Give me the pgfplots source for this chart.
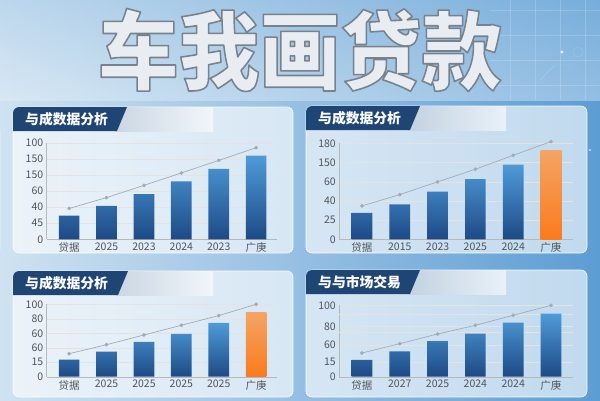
\documentclass[border=0pt]{standalone}
\usepackage{fontspec}
\setmainfont{Noto Sans CJK SC}
\usepackage{pgfplots}
\pgfplotsset{compat=1.18}
\definecolor{bgL}{HTML}{CFE2F1}
\definecolor{bgM}{HTML}{E7F1F9}
\definecolor{bgR}{HTML}{5C9DD4}
\definecolor{navy}{HTML}{1F4574}
\definecolor{barTop}{HTML}{4E9BD8}
\definecolor{barMid}{HTML}{3577B8}
\definecolor{barBot}{HTML}{1D4A86}
\definecolor{orTop}{HTML}{F4A464}
\definecolor{orMid}{HTML}{F98A33}
\definecolor{orBot}{HTML}{FB7A1C}
\definecolor{lineG}{HTML}{A3ABB6}
\definecolor{tickT}{HTML}{50555C}
\definecolor{silver}{HTML}{E9EDF1}
\pgfplotsset{
  panel/.style={scale only axis, anchor=south west, ymin=0,
    axis x line*=bottom, axis y line*=left,
    axis line style={draw=black!28, -},
    ymajorgrids, grid style={black!11},
    major tick length=0pt, xtick={0,...,5},
    tick label style={font=\fontsize{10.5}{11}\selectfont, text=tickT},
    clip=false, /pgf/number format/assume math mode=true},
  bars/.style={ybar, bar width=20.7pt, bar shift=0pt, draw=none,
    top color=barTop, middle color=barMid, bottom color=barBot},
  obars/.style={ybar, bar width=20.7pt, bar shift=0pt, draw=none,
    top color=orTop, middle color=orMid, bottom color=orBot},
  trend/.style={lineG, line width=0.7pt, mark=*, mark size=1.5pt, mark options={fill=lineG, draw=lineG}}
}
\newcommand{\panelbox}[6]{%
  \fill[white, opacity=0.62, rounded corners=6pt] (#1,#2) rectangle (#3,#4);
  \draw[white, opacity=0.9, line width=0.6pt, rounded corners=6pt] (#1,#2) rectangle (#3,#4);
  \begin{scope}
    \clip[rounded corners=6pt] (#1,#2) rectangle (#3,#4);
    \shade[left color=navy!30!white, right color=white, opacity=0.6] (#5-12,#4-24) rectangle (#1+200,#4);
    \fill[navy] (#1,#4-24) -- (#1,#4) -- (#5,#4) -- (#5-10,#4-24) -- cycle;
  \end{scope}
  \node[anchor=west, text=white, inner sep=0pt] at (#1+12,#4-12.5) {\fontsize{13.8}{14}\selectfont\bfseries #6};
}
\begin{document}
\begin{tikzpicture}[x=1pt,y=1pt]
\useasboundingbox (0,0) rectangle (600,400);
\shade[left color=bgL, middle color=bgM, right color=bgR] (0,0) rectangle (600,400);
\shade[top color=bgR!50!bgM, bottom color=bgM, opacity=0.4] (0,300) rectangle (600,400);
% tech decoration
\begin{scope}[white, opacity=0.18, line width=0.4pt]
  \foreach \x in {510,535,...,600} \draw (\x,300) -- (\x,400);
  \foreach \y in {315,340,...,400} \draw (490,\y) -- (600,\y);
  \draw (540,320) -- (555,335) -- (575,335);
  \draw (578,348) circle (5);
  \foreach \x in {0,20,...,60} \draw (\x,150) -- (\x,270);
\end{scope}
\fill[white, opacity=0.8] (562,348) circle (1.6);
\fill[white, opacity=0.7] (590,250) circle (1.2);
% big title (silver fill with grey outline)
\node[text=silver, xscale=0.94] at (300,350) {\fontsize{86}{86}\selectfont\bfseries\special{pdf:literal direct 2 Tr 1.6 w 1 j 0.47 0.51 0.56 RG}车我画贷款\special{pdf:literal direct 0 Tr}};
% panels
\panelbox{13}{147}{293}{293}{127}{与成数据分析}
\panelbox{306}{147}{587}{294}{420}{与成数据分析}
\panelbox{13}{3}{293}{129}{128}{与成数据分析}
\panelbox{306}{3}{587}{130}{420}{与与市场交易}
% panel 1
\begin{axis}[panel, at={(46.7pt,160.7pt)}, width=230pt, height=96.6pt,
  xmin=-0.6, xmax=5.55, ymax=6, ytick={0,...,6},
  yticklabels={0,45,40,60,150,150,100},
  xticklabels={贷据,2025,2023,2024,2023,广庚}]
\addplot[bars] coordinates {(0,1.47) (1,2.07) (2,2.81) (3,3.6) (4,4.37) (5,5.19)};
\addplot[trend] coordinates {(0,1.92) (1,2.59) (2,3.35) (3,4.12) (4,4.9) (5,5.69)};
\end{axis}
% panel 2
\begin{axis}[panel, at={(339.3pt,160.7pt)}, width=234pt, height=96pt,
  xmin=-0.6, xmax=5.59, ymax=5, ytick={0,...,5},
  yticklabels={0,25,40,60,150,180},
  xticklabels={贷据,2015,2023,2025,2024,广庚}]
\addplot[bars] coordinates {(0,1.37) (1,1.82) (2,2.48) (3,3.14) (4,3.89)};
\addplot[obars] coordinates {(5,4.6)};
\addplot[trend] coordinates {(0,1.74) (1,2.33) (2,2.99) (3,3.65) (4,4.375) (5,5.09)};
\end{axis}
% panel 3
\begin{axis}[panel, at={(46.7pt,23.3pt)}, width=230pt, height=72.4pt,
  xmin=-0.6, xmax=5.55, ymax=5, ytick={0,...,5},
  yticklabels={0,15,60,60,80,100},
  xticklabels={贷据,2025,2025,2025,2025,广庚}]
\addplot[bars] coordinates {(0,1.18) (1,1.73) (2,2.4) (3,2.95) (4,3.71)};
\addplot[obars] coordinates {(5,4.45)};
\addplot[trend] coordinates {(0,1.59) (1,2.21) (2,2.88) (3,3.55) (4,4.22) (5,5.0)};
\end{axis}
% panel 4
\begin{axis}[panel, at={(339.3pt,23.3pt)}, width=234pt, height=71.4pt,
  xmin=-0.6, xmax=5.59, ymax=100, ytick={0,21,44.4,70.1,100},
  yticklabels={0,15,60,80,100},
  extra y ticks={61.7,87.4}, extra y tick labels={},
  xticklabels={贷据,2027,2025,2024,2024,广庚}]
\addplot[bars] coordinates {(0,23.4) (1,35.5) (2,50) (3,60.3) (4,75.7) (5,88.3)};
\addplot[trend] coordinates {(0,33.2) (1,46.3) (2,59.8) (3,72) (4,86) (5,100)};
\end{axis}
\end{tikzpicture}
\end{document}
